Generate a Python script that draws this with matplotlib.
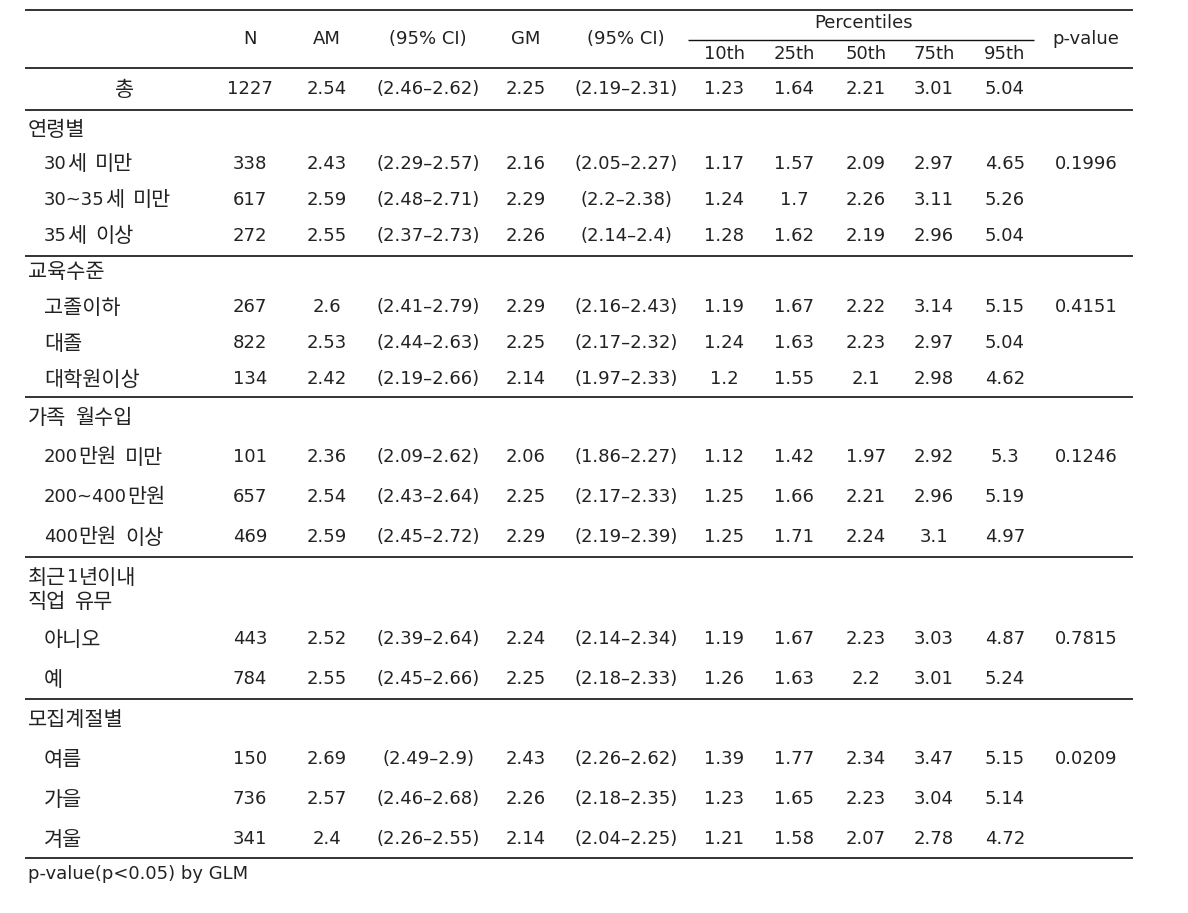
import re
import matplotlib
matplotlib.use("Agg")
import matplotlib.pyplot as plt

plt.rcParams['font.family'] = ['DejaVu Sans', 'Noto Sans CJK KR']

columns = ["N", "AM", "(95% CI)", "GM", "(95% CI)"]
pct_labels = ["10th", "25th", "50th", "75th", "95th"]

total_row = ["1227", "2.54", "(2.46–2.62)", "2.25", "(2.19–2.31)", "1.23", "1.64", "2.21", "3.01", "5.04", ""]

groups = [
    ("연령별", [
        ("30세 미만", ["338", "2.43", "(2.29–2.57)", "2.16", "(2.05–2.27)", "1.17", "1.57", "2.09", "2.97", "4.65", "0.1996"]),
        ("30~35세 미만", ["617", "2.59", "(2.48–2.71)", "2.29", "(2.2–2.38)", "1.24", "1.7", "2.26", "3.11", "5.26", ""]),
        ("35세 이상", ["272", "2.55", "(2.37–2.73)", "2.26", "(2.14–2.4)", "1.28", "1.62", "2.19", "2.96", "5.04", ""]),
    ]),
    ("교육수준", [
        ("고졸이하", ["267", "2.6", "(2.41–2.79)", "2.29", "(2.16–2.43)", "1.19", "1.67", "2.22", "3.14", "5.15", "0.4151"]),
        ("대졸", ["822", "2.53", "(2.44–2.63)", "2.25", "(2.17–2.32)", "1.24", "1.63", "2.23", "2.97", "5.04", ""]),
        ("대학원이상", ["134", "2.42", "(2.19–2.66)", "2.14", "(1.97–2.33)", "1.2", "1.55", "2.1", "2.98", "4.62", ""]),
    ]),
    ("가족 월수입", [
        ("200만원 미만", ["101", "2.36", "(2.09–2.62)", "2.06", "(1.86–2.27)", "1.12", "1.42", "1.97", "2.92", "5.3", "0.1246"]),
        ("200~400만원", ["657", "2.54", "(2.43–2.64)", "2.25", "(2.17–2.33)", "1.25", "1.66", "2.21", "2.96", "5.19", ""]),
        ("400만원 이상", ["469", "2.59", "(2.45–2.72)", "2.29", "(2.19–2.39)", "1.25", "1.71", "2.24", "3.1", "4.97", ""]),
    ]),
    ("최근1년이내\n직업 유무", [
        ("아니오", ["443", "2.52", "(2.39–2.64)", "2.24", "(2.14–2.34)", "1.19", "1.67", "2.23", "3.03", "4.87", "0.7815"]),
        ("예", ["784", "2.55", "(2.45–2.66)", "2.25", "(2.18–2.33)", "1.26", "1.63", "2.2", "3.01", "5.24", ""]),
    ]),
    ("모집계절별", [
        ("여름", ["150", "2.69", "(2.49–2.9)", "2.43", "(2.26–2.62)", "1.39", "1.77", "2.34", "3.47", "5.15", "0.0209"]),
        ("가을", ["736", "2.57", "(2.46–2.68)", "2.26", "(2.18–2.35)", "1.23", "1.65", "2.23", "3.04", "5.14", ""]),
        ("겨울", ["341", "2.4", "(2.26–2.55)", "2.14", "(2.04–2.25)", "1.21", "1.58", "2.07", "2.78", "4.72", ""]),
    ]),
]
footnote = "p-value(p<0.05) by GLM"

# ---- layout (pixels) ----
W, H = 1188, 913
fig = plt.figure(figsize=(W / 100, H / 100), dpi=100)
ax = fig.add_axes([0, 0, 1, 1])
ax.set_xlim(0, W)
ax.set_ylim(H, 0)
ax.axis('off')
renderer = fig.canvas.get_renderer()

col_x = [250, 327, 428, 526, 626, 724, 794, 866, 934, 1005, 1086]
fs = 13
fs_ko = 15
tc = '#222222'
x0, x1 = 25, 1133

def hline(y, xa=x0, xb=x1, lw=1.2):
    ax.plot([xa, xb], [y, y], color='#111111', lw=lw, solid_capstyle='butt')

def txt(x, y, s, ha='center', size=fs, **kw):
    return ax.text(x, y, s, ha=ha, va='center', fontsize=size, color=tc, **kw)

def mixed(x, y, s):
    """Draw a label: Latin/digits in DejaVu 13, Korean in Noto CJK KR at larger size."""
    for part in re.findall(r' +|[\x21-\x7e]+|[^\x00-\x7f ]+', s):
        if part.startswith(' '):
            x += 8 * len(part)
            continue
        if part.isascii():
            t = ax.text(x, y, part, ha='left', va='center', fontsize=fs, color=tc,
                        family=['DejaVu Sans'])
        else:
            t = ax.text(x, y + 0.5, part, ha='left', va='center', fontsize=fs_ko, color=tc,
                        family=['Noto Sans CJK KR'])
        bb = t.get_window_extent(renderer)
        x += bb.width + 0.5

# header
hline(10)
for cx, c in zip(col_x[:5], columns):
    txt(cx, 39, c)
txt(864, 23, "Percentiles")
hline(40, 688, 1034, lw=1.0)
for cx, c in zip(col_x[5:10], pct_labels):
    txt(cx, 54, c)
txt(col_x[10], 39, "p-value")
hline(68)

# total row
txt(125, 89.5, "총", size=fs_ko, family=['Noto Sans CJK KR'])
for cx, v in zip(col_x, total_row):
    if v:
        txt(cx, 89, v)
hline(110)

# group layout: (header y for each line, row ys, bottom line y)
group_layout = [
    ([129], [164, 200, 236], 256),
    ([271], [307, 343, 379], 397),
    ([417], [457, 497, 537], 557),
    ([577, 601], [639, 679], 699),
    ([719], [759, 799, 839], 858),
]

for (gname, rows), (gys, rys, by) in zip(groups, group_layout):
    for line, gy in zip(gname.split("\n"), gys):
        mixed(28, gy, line)
    for (rname, vals), ry in zip(rows, rys):
        mixed(44, ry, rname)
        for cx, v in zip(col_x, vals):
            if v:
                txt(cx, ry, v)
    hline(by)

ax.text(28, 874, footnote, ha='left', va='center', fontsize=fs, color=tc)

fig.savefig("out.png", dpi=100, facecolor='white')
